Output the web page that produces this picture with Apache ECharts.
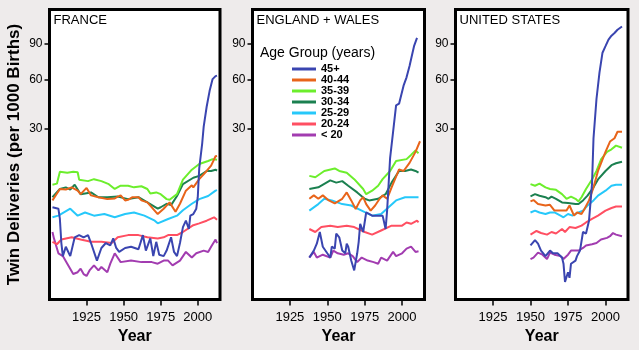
<!DOCTYPE html>
<html>
<head>
<meta charset="utf-8">
<title>Twin deliveries by maternal age</title>
<script src="https://cdn.jsdelivr.net/npm/echarts@6/dist/echarts.min.js"></script>
<style>
  html, body { margin: 0; padding: 0; background: #eeebeb; }
  #main { width: 639px; height: 350px; }
</style>
</head>
<body>
<div id="main"></div>
<script>
// legend order (top first)
var ageGroups = ['45+', '40-44', '35-39', '30-34', '25-29', '20-24', '< 20']
var ageColors = ['#3a45b0', '#e8641a', '#6cee2c', '#1b8050', '#26c8fa', '#ff4f62', '#a23cb0']

var countries = ['FRANCE', 'ENGLAND + WALES', 'UNITED STATES']

var xTicks = [1925, 1950, 1975, 2000]
// y is a log scale; the reference prints "90" at the height of 100
var yTickValues = [30, 60, 100]
var yTickLabels = ['30', '60', '90']

// twin deliveries per 1000 births, [year, value]
var fr45 = [[1902, 9.8], [1906, 9.6], [1907, 8.3], [1908, 5.9], [1909, 4.9], [1911, 5.6], [1914, 4.9], [1917, 6.4], [1920, 6.6], [1923, 6.4], [1926, 6.6], [1928, 5.9], [1932, 4.6], [1935, 5.5], [1938, 5.9], [1941, 5.7], [1943, 6.3], [1945, 5.5], [1947, 5.2], [1951, 5.5], [1955, 5.6], [1960, 5.4], [1963, 6.6], [1965, 5.3], [1968, 6.3], [1970, 4.9], [1972, 6.0], [1974, 5.0], [1977, 4.9], [1979, 5.3], [1980, 5.2], [1982, 6.4], [1984, 5.2], [1986, 4.9], [1988, 5.9], [1990, 7.4], [1992, 8.1], [1994, 7.2], [1995, 8.7], [1997, 8.9], [1999, 9.6], [2000, 11.3], [2001, 17.1], [2003, 24.3], [2004, 30.8], [2006, 40.8], [2008, 51.1], [2010, 60.4], [2012, 63.0], [2013, 63.4]]
var fr40 = [[1902, 10.8], [1907, 12.7], [1911, 12.6], [1915, 13.0], [1919, 12.4], [1921, 11.8], [1925, 12.9], [1928, 11.6], [1933, 11.3], [1939, 11.0], [1944, 11.1], [1946, 11.4], [1948, 11.6], [1951, 10.8], [1953, 10.9], [1956, 11.3], [1960, 11.3], [1962, 10.8], [1966, 10.5], [1973, 8.9], [1977, 9.6], [1981, 10.5], [1985, 9.2], [1988, 10.3], [1992, 12.4], [1996, 13.4], [1997, 13.0], [2001, 14.6], [2006, 16.4], [2009, 17.7], [2012, 20.2], [2013, 20.3]]
var fr35 = [[1902, 13.5], [1905, 13.7], [1907, 16.2], [1912, 16.0], [1916, 16.2], [1919, 16.1], [1920, 14.5], [1926, 14.2], [1930, 14.6], [1935, 14.2], [1940, 13.6], [1944, 12.7], [1948, 13.3], [1953, 13.3], [1957, 13.0], [1962, 13.2], [1966, 12.7], [1968, 11.9], [1972, 12.1], [1975, 11.8], [1979, 11.0], [1981, 10.9], [1986, 11.8], [1990, 14.5], [1996, 16.7], [2001, 18.1], [2007, 18.9], [2010, 19.4], [2013, 19.2]]
var fr30 = [[1902, 11.3], [1907, 12.7], [1911, 13.0], [1914, 12.6], [1917, 13.5], [1921, 11.8], [1928, 12.1], [1933, 11.3], [1939, 11.3], [1946, 11.4], [1953, 11.0], [1960, 11.3], [1966, 10.5], [1973, 9.6], [1975, 9.8], [1979, 10.3], [1982, 10.1], [1986, 11.5], [1990, 13.6], [1997, 14.9], [2001, 15.3], [2006, 16.4], [2009, 16.4], [2012, 16.7], [2013, 16.5]]
var fr25 = [[1902, 8.5], [1906, 8.7], [1914, 9.6], [1919, 8.7], [1924, 9.1], [1930, 8.7], [1937, 8.9], [1944, 8.5], [1951, 8.9], [1957, 9.1], [1964, 8.7], [1971, 8.1], [1973, 7.8], [1980, 8.3], [1986, 8.7], [1990, 9.4], [1996, 10.3], [2001, 11.0], [2007, 11.5], [2012, 12.4], [2013, 12.5]]
var fr20 = [[1902, 6.0], [1905, 5.8], [1908, 6.2], [1915, 6.4], [1921, 6.2], [1928, 6.0], [1935, 6.0], [1942, 5.9], [1946, 6.4], [1953, 6.6], [1960, 6.6], [1966, 6.4], [1973, 6.3], [1977, 6.4], [1980, 6.6], [1986, 6.6], [1990, 6.9], [1997, 7.6], [2001, 7.8], [2006, 8.1], [2011, 8.5], [2013, 8.2]]
var frU20 = [[1902, 6.9], [1903, 6.3], [1906, 5.1], [1909, 4.9], [1912, 4.4], [1916, 3.8], [1919, 3.9], [1921, 4.1], [1923, 3.8], [1925, 3.7], [1927, 4.0], [1930, 4.3], [1933, 4.0], [1935, 4.2], [1939, 3.9], [1941, 4.4], [1944, 5.1], [1948, 4.5], [1955, 4.6], [1962, 4.5], [1969, 4.5], [1973, 4.4], [1977, 4.6], [1980, 4.6], [1983, 4.3], [1988, 4.6], [1992, 5.2], [1996, 4.8], [1999, 5.1], [2004, 5.3], [2007, 5.2], [2009, 5.6], [2012, 6.2], [2013, 5.9]]

var ew45 = [[1938, 4.8], [1941, 5.3], [1943, 5.85], [1945, 6.9], [1947, 5.6], [1950, 5.1], [1952, 4.8], [1953, 5.6], [1955, 5.45], [1956, 6.75], [1958, 6.4], [1960, 5.3], [1962, 5.1], [1963, 5.85], [1964, 5.6], [1965, 5.75], [1966, 4.6], [1968, 4.0], [1970, 5.1], [1971, 6.0], [1972, 7.75], [1974, 6.9], [1975, 6.75], [1976, 9.1], [1980, 8.7], [1984, 8.7], [1987, 8.7], [1989, 7.2], [1990, 9.35], [1992, 19.7], [1994, 28.6], [1996, 41.6], [1998, 42.6], [2001, 55.0], [2003, 61.9], [2005, 72.8], [2007, 87.8], [2008, 96.3], [2010, 108.3]]
var ew40 = [[1938, 11.05], [1941, 11.6], [1944, 11.05], [1947, 11.6], [1951, 10.8], [1955, 10.35], [1960, 11.05], [1963, 12.1], [1966, 10.8], [1969, 9.55], [1972, 10.8], [1974, 11.3], [1976, 10.25], [1979, 9.35], [1982, 10.05], [1985, 11.05], [1987, 11.6], [1990, 11.05], [1993, 13.0], [1998, 16.75], [2001, 16.4], [2005, 18.4], [2009, 21.5], [2012, 25.0]]
var ew35 = [[1938, 15.3], [1942, 15.0], [1948, 16.4], [1955, 17.0], [1958, 16.4], [1963, 16.0], [1968, 14.6], [1974, 12.7], [1976, 11.8], [1980, 12.4], [1984, 13.3], [1987, 14.6], [1992, 16.4], [1996, 18.9], [2003, 19.4], [2006, 20.6], [2009, 21.9], [2011, 21.1]]
var ew30 = [[1938, 12.7], [1944, 13.0], [1952, 14.35], [1956, 13.9], [1960, 14.2], [1964, 13.3], [1970, 12.1], [1975, 11.05], [1978, 10.8], [1984, 11.05], [1989, 11.8], [1993, 13.9], [1998, 16.4], [2002, 16.4], [2006, 16.75], [2009, 16.4], [2011, 16.0]]
var ew25 = [[1938, 9.35], [1944, 10.25], [1948, 11.05], [1953, 10.8], [1960, 10.25], [1966, 10.05], [1973, 9.35], [1980, 8.7], [1986, 8.9], [1991, 9.8], [1996, 10.8], [2002, 11.3], [2006, 11.3], [2011, 11.3]]
var ew20 = [[1938, 7.2], [1942, 6.9], [1946, 7.4], [1952, 7.55], [1957, 7.4], [1963, 7.55], [1968, 7.4], [1975, 6.9], [1980, 6.65], [1986, 7.05], [1993, 7.55], [2000, 7.55], [2003, 7.9], [2006, 7.75], [2010, 8.1], [2011, 7.9]]
var ewU20 = [[1938, 4.8], [1941, 5.2], [1943, 4.8], [1947, 5.0], [1952, 4.8], [1954, 5.3], [1957, 5.1], [1961, 5.0], [1964, 5.1], [1967, 4.9], [1970, 4.5], [1973, 4.8], [1977, 4.6], [1981, 4.5], [1984, 4.4], [1986, 4.8], [1990, 4.6], [1994, 5.2], [1996, 4.9], [2000, 5.1], [2003, 5.45], [2006, 5.6], [2009, 5.2], [2011, 5.25]]

var us45 = [[1950, 5.7], [1951, 5.6], [1953, 6.15], [1955, 5.85], [1957, 5.3], [1960, 4.9], [1961, 4.8], [1963, 5.3], [1965, 5.1], [1968, 5.1], [1971, 4.8], [1972, 4.4], [1973, 3.4], [1975, 3.9], [1976, 3.6], [1977, 4.4], [1980, 4.6], [1981, 4.9], [1983, 5.3], [1985, 6.9], [1987, 6.75], [1989, 8.1], [1991, 13.6], [1992, 26.1], [1994, 45.7], [1996, 66.4], [1998, 87.8], [2000, 96.3], [2002, 105.8], [2004, 111.8], [2006, 116.2], [2008, 121.7], [2011, 127.4]]
var us40 = [[1950, 10.65], [1952, 10.85], [1955, 10.25], [1960, 10.05], [1963, 10.15], [1966, 9.35], [1971, 9.35], [1974, 9.35], [1976, 10.05], [1979, 8.7], [1981, 9.1], [1984, 8.9], [1986, 9.55], [1989, 10.8], [1992, 13.0], [1995, 16.4], [2000, 21.5], [2003, 24.9], [2006, 26.1], [2008, 28.6], [2011, 28.6]]
var us35 = [[1950, 13.6], [1953, 13.3], [1956, 13.7], [1960, 13.0], [1963, 12.7], [1967, 12.55], [1971, 11.8], [1974, 11.05], [1977, 11.4], [1980, 11.05], [1982, 10.65], [1984, 11.3], [1987, 12.7], [1991, 14.55], [1994, 16.4], [1997, 19.3], [2001, 21.5], [2004, 22.3], [2007, 23.5], [2011, 22.8]]
var us30 = [[1950, 11.45], [1953, 11.8], [1956, 11.55], [1960, 11.3], [1962, 11.05], [1964, 11.4], [1967, 11.05], [1971, 10.5], [1975, 10.4], [1980, 10.25], [1982, 10.25], [1985, 10.8], [1988, 11.55], [1992, 13.0], [1995, 14.55], [2000, 16.4], [2004, 17.8], [2007, 18.3], [2011, 18.7]]
var us25 = [[1950, 9.1], [1953, 9.35], [1956, 9.1], [1960, 8.9], [1963, 9.1], [1966, 9.1], [1970, 8.7], [1972, 8.5], [1975, 8.9], [1978, 8.7], [1982, 9.1], [1985, 9.35], [1988, 10.05], [1992, 10.8], [1995, 11.55], [2000, 12.4], [2004, 13.3], [2007, 13.5], [2011, 13.5]]
var us20 = [[1950, 6.65], [1954, 7.0], [1957, 6.8], [1961, 6.65], [1964, 6.9], [1967, 6.75], [1971, 7.2], [1973, 6.9], [1976, 7.4], [1980, 7.3], [1984, 7.55], [1987, 7.9], [1991, 8.3], [1995, 8.7], [2000, 9.35], [2004, 9.7], [2007, 9.9], [2011, 9.9]]
var usU20 = [[1950, 4.7], [1952, 4.8], [1955, 5.15], [1958, 5.0], [1961, 4.7], [1963, 5.15], [1966, 5.0], [1970, 4.9], [1972, 4.7], [1975, 5.0], [1977, 5.3], [1982, 5.3], [1985, 5.5], [1987, 5.7], [1991, 5.8], [1994, 5.9], [1997, 6.2], [2001, 6.35], [2003, 6.5], [2005, 6.8], [2007, 6.65], [2011, 6.5]]

var countryData = [
  [fr45, fr40, fr35, fr30, fr25, fr20, frU20],
  [ew45, ew40, ew35, ew30, ew25, ew20, ewU20],
  [us45, us40, us35, us30, us25, us20, usU20]
]

var FONT = '"Liberation Sans", Arial, sans-serif'
var yMinVal = 2.644
var yMaxVal = 162.1

// panel frames
var gridLefts = [49.5, 252.5, 455.5]
var gridWidths = [170.5, 172, 172.5]

function yLabel(val) {
  for (var i = 0; i < yTickValues.length; i++) {
    if (Math.abs(Math.log(yTickValues[i]) - val) < 1e-6) return yTickLabels[i]
  }
  return ''
}

var chart = echarts.init(document.getElementById('main'), null, { renderer: 'canvas' })

var grids = [], xAxes = [], yAxes = [], series = [], texts = []

countries.forEach(function(country, c) {
  grids.push({
    left: gridLefts[c],
    top: 9.5,
    width: gridWidths[c],
    height: 294,
    show: true,
    backgroundColor: '#fff',
    borderColor: '#000',
    borderWidth: 3
  })
  xAxes.push({
    gridIndex: c,
    type: 'value',
    min: 1900,
    max: 2015,
    name: 'Year',
    nameLocation: 'middle',
    nameGap: 31.5,
    nameTextStyle: { fontFamily: FONT, fontSize: 16, fontWeight: 'bold', color: '#000', verticalAlign: 'middle' },
    axisLine: { show: false },
    splitLine: { show: false },
    axisTick: { show: true, customValues: xTicks, length: 6, lineStyle: { color: '#000', width: 1.5 } },
    axisLabel: {
      customValues: xTicks,
      fontFamily: FONT,
      fontSize: 13,
      color: '#000',
      margin: 18,
      verticalAlign: 'middle',
      formatter: function(v) { return String(v) }
    }
  })
  yAxes.push({
    gridIndex: c,
    type: 'value',
    min: Math.log(yMinVal),
    max: Math.log(yMaxVal),
    name: c === 0 ? 'Twin Deliveries (per 1000 Births)' : '',
    nameLocation: 'middle',
    nameGap: 35,
    nameTextStyle: { fontFamily: FONT, fontSize: 17, fontWeight: 'bold', color: '#000', verticalAlign: 'middle' },
    axisLine: { show: false },
    splitLine: { show: false },
    axisTick: { show: true, customValues: yTickValues.map(Math.log), length: 5, lineStyle: { color: '#000', width: 1.5 } },
    axisLabel: {
      customValues: yTickValues.map(Math.log),
      fontFamily: FONT,
      fontSize: 12,
      color: '#000',
      margin: 7,
      formatter: yLabel
    }
  })
  // youngest first so 45+ is drawn on top
  for (var a = ageGroups.length - 1; a >= 0; a--) {
    series.push({
      type: 'line',
      name: ageGroups[a],
      xAxisIndex: c,
      yAxisIndex: c,
      showSymbol: false,
      symbol: 'none',
      color: ageColors[a],
      lineStyle: { width: 2, color: ageColors[a] },
      data: countryData[c][a].map(function(p) { return [p[0], Math.log(p[1])] })
    })
  }
  texts.push({
    type: 'text',
    x: gridLefts[c] + 4,
    y: 20,
    style: { text: country, font: '13px ' + FONT, fill: '#000', verticalAlign: 'middle' }
  })
})

texts.push({
  type: 'text',
  x: 260,
  y: 53.5,
  style: { text: 'Age Group (years)', font: '14px ' + FONT, fill: '#000', verticalAlign: 'middle' }
})

var option = {
  backgroundColor: '#eeebeb',
  animation: false,
  textStyle: { fontFamily: FONT },
  grid: grids,
  xAxis: xAxes,
  yAxis: yAxes,
  legend: {
    data: ageGroups,
    orient: 'vertical',
    left: 292,
    top: 63.5,
    padding: 0,
    itemGap: 0,
    itemWidth: 24,
    itemHeight: 3,
    icon: 'rect',
    selectedMode: false,
    textStyle: { fontFamily: FONT, fontSize: 11, fontWeight: 'bold', color: '#000', lineHeight: 9.7 }
  },
  graphic: texts,
  series: series
}

chart.setOption(option)
</script>
</body>
</html>
